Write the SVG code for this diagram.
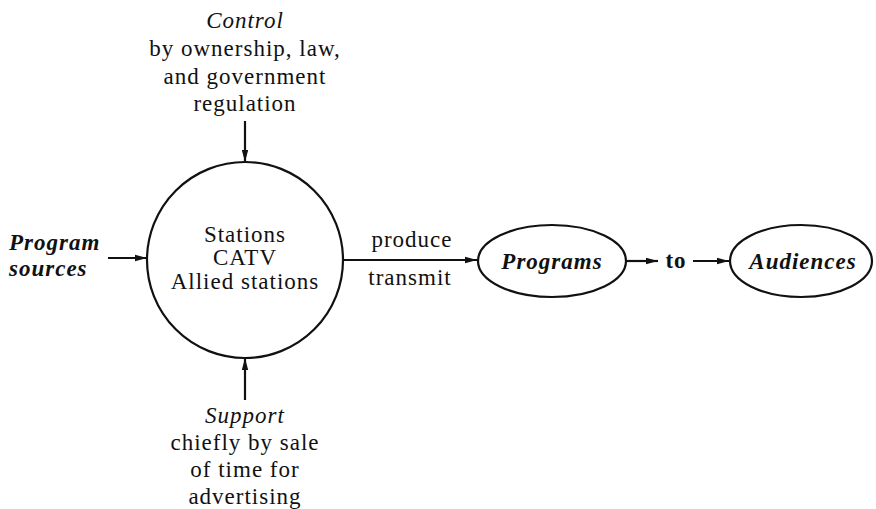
<svg xmlns="http://www.w3.org/2000/svg" width="876" height="509" viewBox="0 0 876 509">
<style>
text{font-family:"Liberation Serif","Times New Roman",serif;font-size:23px;letter-spacing:1px;fill:#111;text-anchor:middle}
.i{font-style:italic}
.b{font-weight:bold}
.l{text-anchor:start}
.node{fill:none;stroke:#111;stroke-width:2.2}
.c line{stroke:#111;stroke-width:2.2}
</style>
<defs>
<marker id="a" viewBox="0 0 12 10" refX="12" refY="5" markerWidth="12" markerHeight="10" markerUnits="userSpaceOnUse" orient="auto">
<path d="M0,1.8 L12,5 L0,8.2 z" fill="#111"/>
</marker>
</defs>
<rect width="876" height="509" fill="#fff"/>
<g id="control">
<text x="245" y="28" class="i">Control</text>
<text x="245" y="56">by ownership, law,</text>
<text x="245" y="84">and government</text>
<text x="245" y="111">regulation</text>
</g>
<g id="sources">
<text x="9" y="250" class="i b l">Program</text>
<text x="9" y="276" class="i b l">sources</text>
</g>
<g id="stations">
<circle class="node" cx="245" cy="260" r="98"/>
<text x="245" y="242">Stations</text>
<text x="245" y="265">CATV</text>
<text x="245" y="289">Allied stations</text>
</g>
<g id="support">
<text x="245" y="423" class="i">Support</text>
<text x="245" y="450">chiefly by sale</text>
<text x="245" y="477">of time for</text>
<text x="245" y="504">advertising</text>
</g>
<g id="programs">
<ellipse class="node" cx="552" cy="261" rx="74" ry="36"/>
<text x="552" y="269" class="i b">Programs</text>
</g>
<g id="audiences">
<ellipse class="node" cx="801" cy="261" rx="71" ry="36"/>
<text x="803" y="269" class="i b" letter-spacing="2">Audiences</text>
</g>
<g id="labels">
<text x="412" y="247">produce</text>
<text x="410" y="285">transmit</text>
<text x="676" y="268" class="b">to</text>
</g>
<g class="c" id="connectors">
<line x1="245" y1="121" x2="245" y2="162" marker-end="url(#a)"/>
<line x1="245" y1="400" x2="245" y2="358" marker-end="url(#a)"/>
<line x1="108" y1="258" x2="147" y2="258" marker-end="url(#a)"/>
<line x1="343" y1="260" x2="477" y2="260" marker-end="url(#a)"/>
<line x1="627" y1="261" x2="658" y2="261" marker-end="url(#a)"/>
<line x1="693" y1="261" x2="729" y2="261" marker-end="url(#a)"/>
</g>
</svg>
